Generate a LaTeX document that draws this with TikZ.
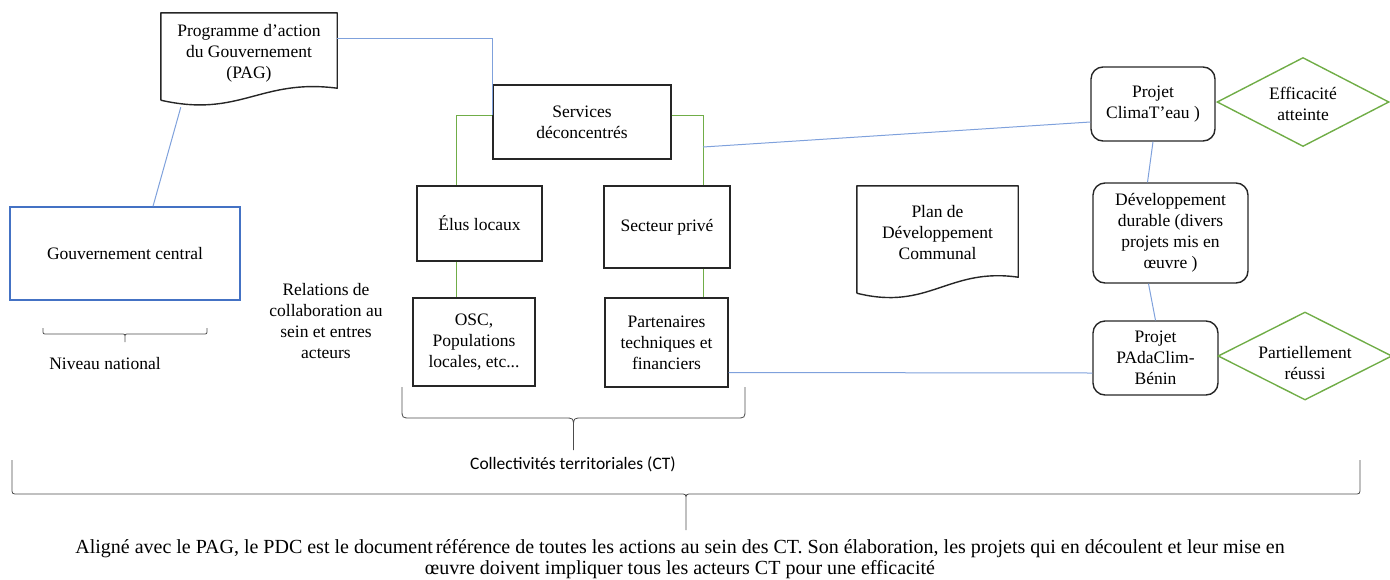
\documentclass[tikz,border=0pt]{standalone}
\usepackage{fontspec}
\setmainfont{Liberation Serif}
\newfontfamily\carlitofont{Carlito}
\usetikzlibrary{shapes.geometric,calc}
\definecolor{lblue}{HTML}{7FA1DC}
\definecolor{lgreen}{HTML}{70AD47}
\definecolor{gblue}{HTML}{4472C4}
\definecolor{dgray}{HTML}{262626}
\newcommand\rsbrace[6]{\draw[bracestyle] (#1,#3) -- (#1,#4-#6) .. controls (#1,#4) .. (#1+#6,#4) -- ({(#1+#2)/2-#6},#4) .. controls ({(#1+#2)/2},#4) .. ({(#1+#2)/2},#4+#6) -- ({(#1+#2)/2},#5) ({(#1+#2)/2},#4+#6) .. controls ({(#1+#2)/2},#4) .. ({(#1+#2)/2+#6},#4) -- (#2-#6,#4) .. controls (#2,#4) .. (#2,#4-#6) -- (#2,#3);}
\begin{document}
\begin{tikzpicture}[x=1pt,y=-1pt,
  every node/.style={font=\fontsize{17.5}{21}\selectfont, align=center, inner sep=0pt},
  box/.style={draw=dgray, line width=1.4pt},
  rbox/.style={box, rounded corners=12pt},
  docline/.style={draw=dgray, line width=1.4pt, line join=round},
  dia/.style={diamond, draw=lgreen, line width=1.4pt, aspect=2},
  bline/.style={draw=lblue, line width=1pt},
  gline/.style={draw=lgreen, line width=1pt},
  bracestyle/.style={draw=black!70, line width=0.8pt}]
\useasboundingbox (0,0) rectangle (1390,579);
% documents
\node[minimum width=176, minimum height=78] (pag) at (249,53) {Programme d’action\\du Gouvernement\\(PAG)};
\draw[docline] ($(pag.south west)+(0,8)$) -- ($(pag.north west)+(0,-1)$) -- ($(pag.north east)+(0,-1)$) -- ($(pag.south east)+(0,-4)$) .. controls +(-77,-10) and +(79,18) .. ($(pag.south west)+(0,8)$);
\node[minimum width=161, minimum height=94] (pdc) at (937.5,233) {Plan de\\Développement\\Communal};
\draw[docline] ($(pdc.south west)+(0,13)$) -- (pdc.north west) -- (pdc.north east) -- ($(pdc.south east)+(0,-3)$) .. controls +(-70,-10) and +(72,18) .. ($(pdc.south west)+(0,13)$);
% boxes
\node[draw=gblue, line width=1.4pt, minimum width=230, minimum height=93] (gov) at (125,253.5) {Gouvernement central};
\node[box, minimum width=178, minimum height=74] (svc) at (582,122) {Services\\déconcentrés};
\node[box, minimum width=125, minimum height=75] (elus) at (479.5,223.5) {Élus locaux};
\node[box, minimum width=126, minimum height=82] (sect) at (667,227) {Secteur privé};
\node[box, minimum width=122, minimum height=88] (osc) at (474,342) {OSC,\\Populations\\locales, etc...};
\node[box, minimum width=123, minimum height=89] (ptf) at (666.5,342.5) {Partenaires\\techniques et\\financiers};
\node[rbox, minimum width=124, minimum height=74] (clim) at (1153,104) {Projet\\ClimaT’eau )};
\node[rbox, minimum width=155, minimum height=100] (dd) at (1170.5,233) {Développement\\durable (divers\\projets mis en\\œuvre )};
\node[rbox, minimum width=125, minimum height=74] (pad) at (1155.5,358) {Projet\\PAdaClim-\\Bénin};
\node[dia, minimum width=172, minimum height=89] (eff) at (1303,102) {};
\node (efftext) at ($(eff.center)+(0,2)$) {Efficacité\\atteinte};
\node[dia, minimum width=174, minimum height=88] (pr) at (1305,356) {};
\node (prtext) at ($(pr.center)+(0,7)$) {Partiellement\\réussi};
% labels
\node (niv) at (105,364) {Niveau national};
\node (rel) at (326,321) {Relations de\\collaboration au\\sein et entres\\acteurs};
\node[font=\carlitofont\fontsize{17.5}{20}\selectfont] (ct) at (573,464) {Collectivités territoriales (CT)};
\node[font=\fontsize{20}{21}\selectfont] (txt) at (680,559.5) {Aligné avec le PAG, le PDC est le document\hspace{0.15em}référence de toutes les actions au sein des CT. Son élaboration, les projets qui en découlent et leur mise en\\œuvre doivent impliquer tous les acteurs CT pour une efficacité};
% junction coordinates
\coordinate (gx) at (456,0);
\coordinate (gx2) at (703,0);
\coordinate (bx) at (472,0);
\coordinate (b1) at (703,147);
% green connectors
\draw[gline] ($(svc.west)+(0,-7)$) -| (elus.north -| gx);
\draw[gline] (elus.south -| gx) -- (osc.north -| gx);
\draw[gline] ($(svc.east)+(0,-7)$) -| (sect.north -| gx2);
\draw[gline] (sect.south -| gx2) -- (ptf.north -| gx2);
\draw[gline] ($(osc.east)+(0,29)$) -- ($(osc.east)+(0,29)$ -| ptf.west);
% blue connectors
\draw[bline] ($(pag.east)+(0,-15)$) -| ($(svc.west)+(0,-7)$ -| bx);
\draw[bline] ($(pag.south west)+(20,15)$) -- ($(gov.north)+(28,0)$);
\draw[bline] ($(gov.east)+(0,21)$) -- ($(gov.east)+(0,21)$ -| gx);
\draw[bline] (b1) -- ($(clim.west)+(0,18)$);
\draw[bline] ($(pdc.west)+(0,42)$ -| gx2) -- ($(pdc.west)+(0,42)$);
\draw[bline] ($(pdc.east)+(0,39)$) -- ($(pdc.east)+(0,39)$ -| dd.west);
\draw[bline] (clim.south) -- ($(dd.north)+(-23,0)$);
\draw[bline] ($(dd.south)+(-22,0)$) -- (pad.north);
\draw[bline] ($(ptf.east)+(0,30)$) -- ($(pad.west)+(0,15)$);
% braces
\rsbrace{43}{207}{328}{334}{342}{4}
\rsbrace{402}{745}{387}{418}{450}{9}
\rsbrace{12}{1360}{460}{494}{530}{6}
\end{tikzpicture}
\end{document}
